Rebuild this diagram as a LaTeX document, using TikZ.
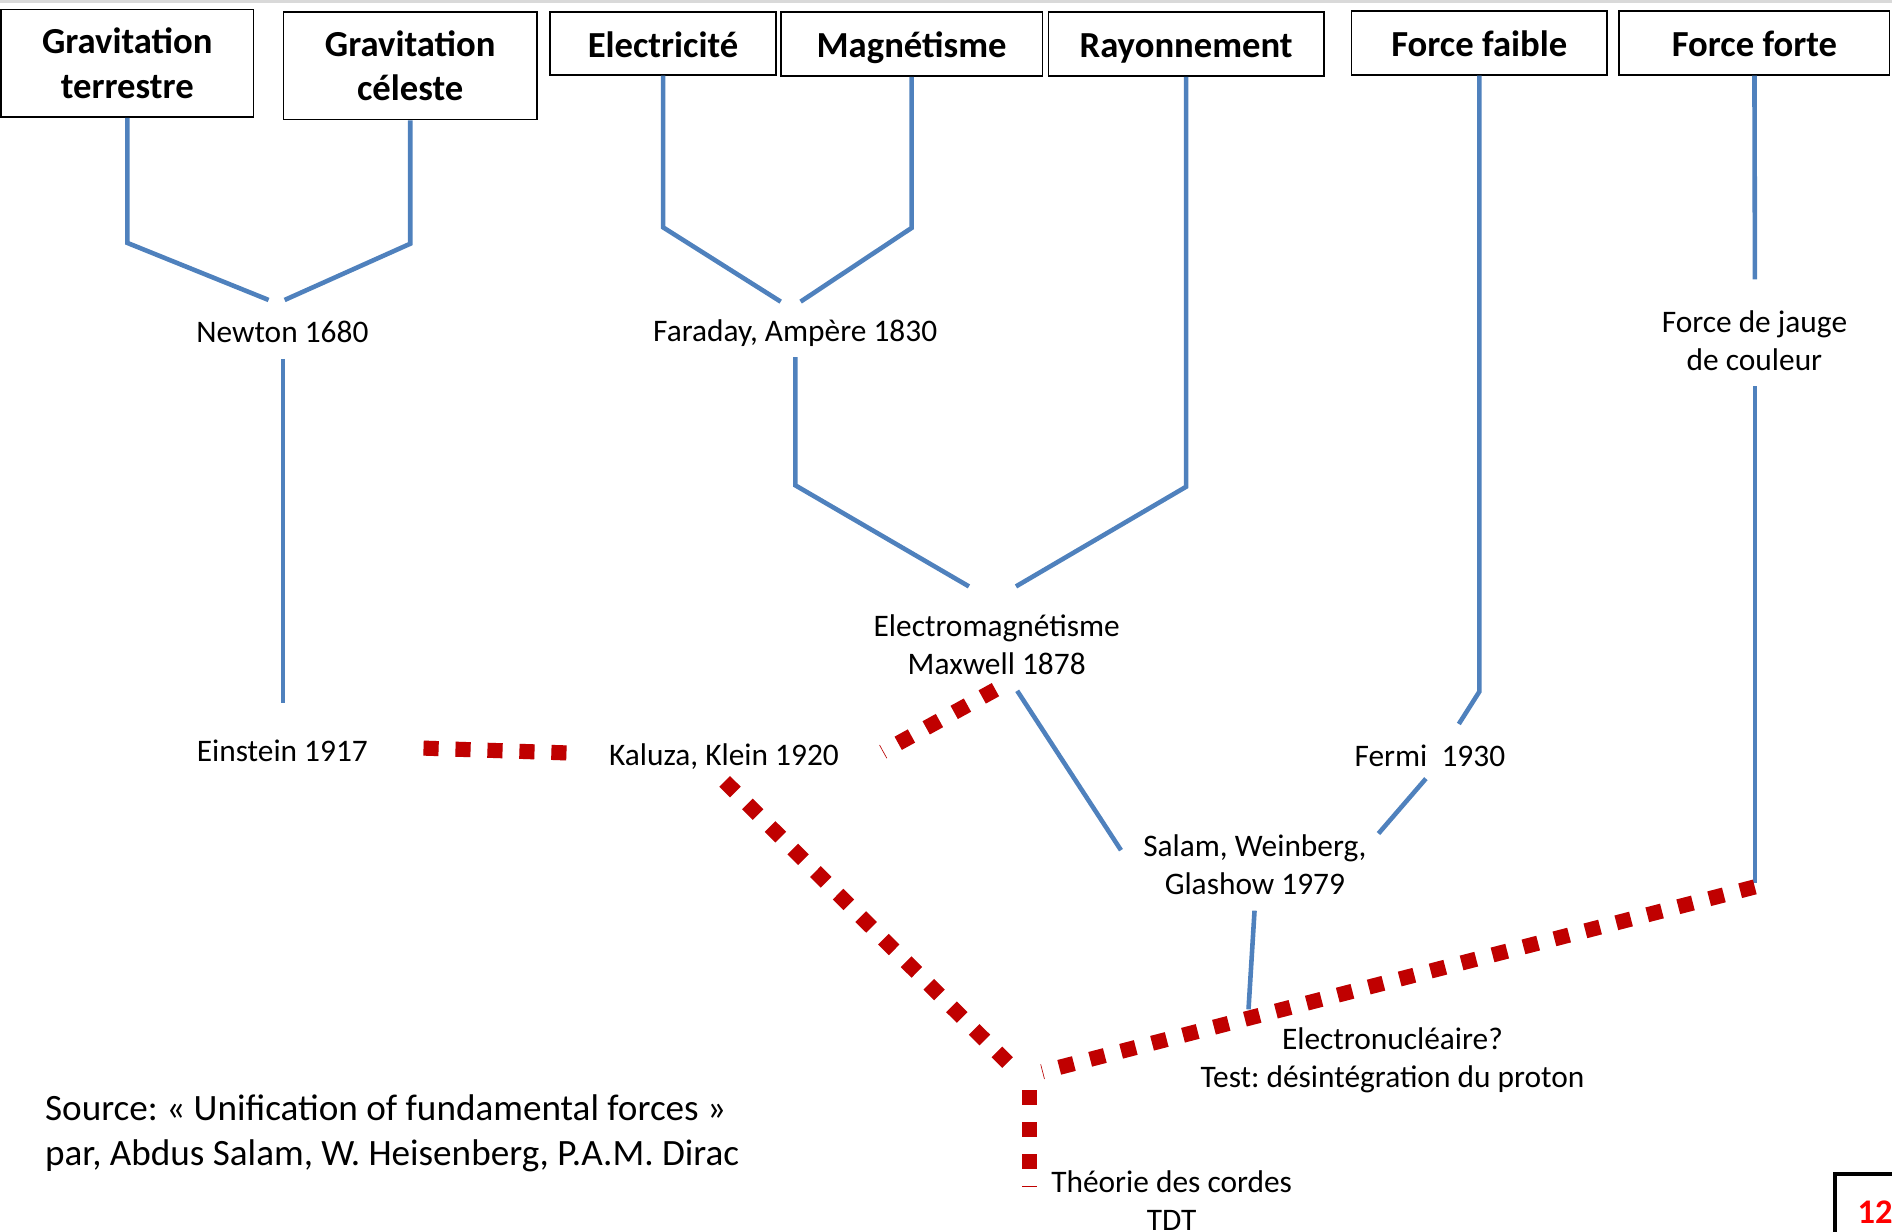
\documentclass[tikz,border=0pt]{standalone}
\usepackage{fontspec}
\setmainfont{Carlito}
\definecolor{lineblue}{RGB}{79,129,189}
\definecolor{dotred}{RGB}{192,0,0}
\frenchspacing
\begin{document}
\frenchspacing
\begin{tikzpicture}[x=0.5pt,y=-0.5pt,
  title/.style={draw=black, line width=0.7pt, font=\fontsize{15.2}{18.5}\selectfont\bfseries, align=center, inner sep=0pt},
  title1/.style={title, text height=11.4pt, text depth=0pt},
  lbl/.style={font=\fontsize{13}{15.75}\selectfont, align=center, inner sep=0pt},
  conn/.style={draw=lineblue, line width=1.9pt},
  dots/.style={draw=dotred, line width=6.25pt, dash pattern=on 6.25pt off 7pt},
  dotsoff/.style={dots, dash phase=6pt},
  shad/.style={draw=black!35, opacity=0.35, line width=6.25pt, dash pattern=on 6.25pt off 7pt, shift={(1.2,2.5)}},
  shadoff/.style={shad, dash phase=6pt}
]
\useasboundingbox (0,0) rectangle (1568,1021);
\clip (0,0) rectangle (1568,1021);
\fill[black!15] (0,0) rectangle (1568,2.2);

% boxes
\node[title, minimum width=104.5pt, minimum height=44.5pt] (terr) at (105.5,52.5) {Gravitation\\terrestre};
\node[title, minimum width=105pt, minimum height=44.5pt] (cel) at (340,54.5) {Gravitation\\céleste};
\node[title1, minimum width=93.5pt, minimum height=26pt] (elec) at (549.5,36) {Electricité};
\node[title1, minimum width=108.5pt, minimum height=26.5pt] (magn) at (755.5,36.5) {Magnétisme};
\node[title1, minimum width=114pt, minimum height=26.5pt] (ray) at (983,36.5) {Rayonnement};
\node[title1, minimum width=106pt, minimum height=26.5pt] (faible) at (1226,35.5) {Force faible};
\node[title1, minimum width=112pt, minimum height=26.5pt] (forte) at (1454,35.5) {Force forte};

% labels
\node[lbl] (newton) at (234,275) {Newton 1680};
\node[lbl] (faraday) at (659,276) {Faraday, Ampère 1830};
\node[lbl] (einstein) at (234,622) {Einstein 1917};
\node[lbl] (kaluza) at (600,627) {Kaluza, Klein 1920};
\node[lbl] (maxwell) at (826,534) {Electromagnétisme\\Maxwell 1878};
\node[lbl] (fermi) at (1185,626) {Fermi~~1930};
\node[lbl] (jauge) at (1454,282) {Force de jauge\\de couleur};
\node[lbl] (salam) at (1040,717) {Salam, Weinberg,\\Glashow 1979};
\node[lbl] (electro) at (1154,879) {Electronucléaire?\\Test: désintégration du proton};
\node[lbl] (tdt) at (971,995) {Théorie des cordes\\TDT};
\node[font=\fontsize{15.4}{18.5}\selectfont, align=left, inner sep=0pt, anchor=west] (source) at (37,939)
  {Source: « Unification of fundamental forces »\\par, Abdus Salam, W. Heisenberg, P.A.M. Dirac};
\node[font=\fontsize{14.3}{17}\selectfont\bfseries, text=red, inner sep=0pt] (page) at (1554,1005) {12};
\draw[line width=1.8pt] (1521,1040) -- (1521,973) -- (1600,973);

% coordinates for free ends
\coordinate (nwL) at (222.6,248.6);
\coordinate (nwR) at (235.9,248.6);
\coordinate (nw1) at (234.4,297.5);
\coordinate (ei1) at (234.4,582.6);
\coordinate (faL) at (647,250);
\coordinate (faR) at (663.5,250);
\coordinate (fa1) at (659.1,296);
\coordinate (mxL) at (803,486);
\coordinate (mxR) at (842,486);
\coordinate (mx1) at (843,572.5);
\coordinate (sa1) at (929,704.6);
\coordinate (fe1) at (1209,600);
\coordinate (fe2) at (1181.7,645.3);
\coordinate (sa2) at (1142.4,690.8);
\coordinate (sa3) at (1039.7,754.7);
\coordinate (ju1) at (1034.7,836.5);
\coordinate (jg1) at (1454.4,231.6);
\coordinate (jg2) at (1454.4,320.2);
\coordinate (jg3) at (1454.4,731.7);
\coordinate (jg4) at (1454.4,735);
\coordinate (ei2) at (351,620);
\coordinate (ka1) at (470,624);
\coordinate (ka2) at (731.7,623);
\coordinate (mx2) at (826,571);
\coordinate (ka3) at (600.6,647.6);
\coordinate (jn1) at (835.1,880.7);
\coordinate (jn2) at (863.8,888.2);
\coordinate (td1) at (853,983);
\coordinate (jn3) at (853,889);

% blue connectors
\draw[conn] (terr.south) -- ++(0,103.6) -- (nwL);
\draw[conn] (cel.south) -- ++(0,102.3) -- (nwR);
\draw[conn] (nw1) -- (ei1);
\draw[conn] (elec.south) -- ++(0,125.7) -- (faL);
\draw[conn] (magn.south) -- ++(0,125.2) -- (faR);
\draw[conn] (fa1) -- ++(0,106.2) -- (mxL);
\draw[conn] (ray.south) -- ++(0,339.7) -- (mxR);
\draw[conn] (mx1) -- (sa1);
\draw[conn] (faible.south) -- ++(0,510.5) -- (fe1);
\draw[conn] (fe2) -- (sa2);
\draw[conn] (sa3) -- (ju1);
\draw[conn] (forte.south) -- (jg1);
\draw[conn] (jg2) -- (jg3);

% red dotted connectors (shadows first)
\draw[shad] (ei2) -- (ka1);
\draw[shadoff] (ka2) -- (mx2);
\draw[shad] (ka3) -- (jn1);
\draw[shadoff] (jn2) -- (jg4);
\draw[shadoff] (td1) -- (jn3);
\draw[dots] (ei2) -- (ka1);
\draw[dotsoff] (ka2) -- (mx2);
\draw[dots] (ka3) -- (jn1);
\draw[dotsoff] (jn2) -- (jg4);
\draw[dotsoff] (td1) -- (jn3);
\end{tikzpicture}
\end{document}
